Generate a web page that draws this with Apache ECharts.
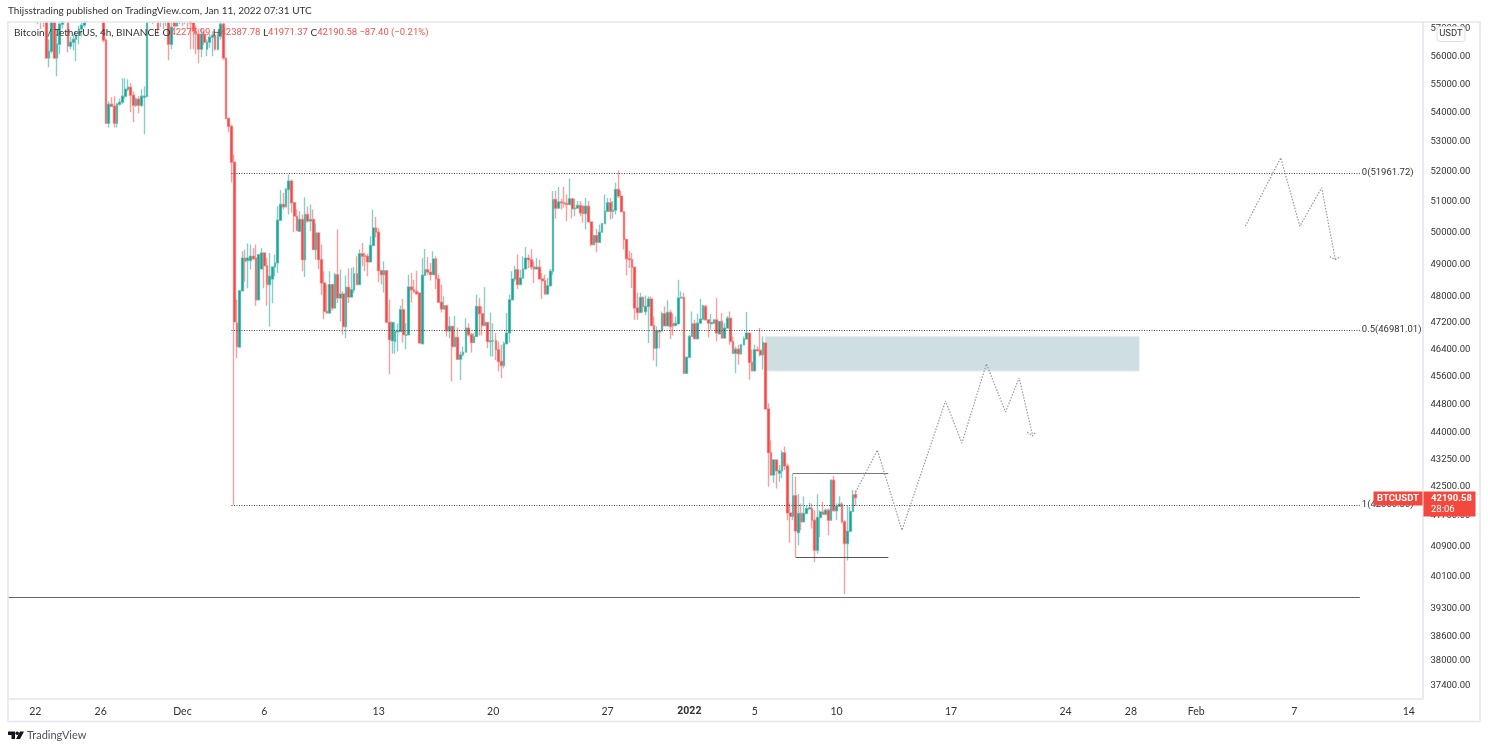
<!DOCTYPE html>
<html>
<head>
<meta charset="utf-8">
<style>
html, body { margin: 0; padding: 0; background: #fff; }
#chart { width: 1488px; height: 750px; }
</style>
<script src="https://cdn.jsdelivr.net/npm/echarts@6/dist/echarts.min.js"></script>
</head>
<body>
<div id="chart"></div>
<script type="text/javascript">

// BTCUSDT 4h bars, first bar 2021-11-20 08:00. Prices above the chart top are estimates.
var opens = [
    58500,58800,59000,58700,59100,59300,59000,58900,58700,58400,
    58300,57900,58100,57700,57900,55930,56180,57300,55930,56430,
    57160,57500,57700,56360,56505,56613,56760,56980,57125,57400,
    57800,58100,58400,58200,58500,58300,56575,53640,54300,54230,
    53640,54300,54370,54580,54825,54895,54615,54265,54474,54265,
    54545,54580,57600,57700,57500,57350,57400,57700,57500,57800,
    56430,57500,57090,57500,57800,57500,57700,57400,57200,56900,
    56795,56252,56795,56252,56505,56685,56750,56252,56720,57160,
    55930,53810,53535,52320,47190,46470,48180,49200,49120,49120,
    49255,49200,47900,48860,49360,48960,48370,48545,48920,49050,
    50410,50920,50845,51410,51690,50975,50540,50055,50430,49150,
    50595,50380,50430,49470,50000,49150,48420,47545,47495,48370,
    47650,48680,47955,48080,47090,48285,47985,48210,48710,48370,
    49340,49275,49255,49080,49600,50160,50025,48805,48680,48805,
    47220,46660,46640,46930,46940,47600,46820,46840,48295,48210,
    48160,48110,46570,48660,48835,48760,48680,49170,48545,47825,
    47620,47720,46960,47090,46490,46760,46110,46240,46320,47040,
    46840,46610,46790,47700,47475,47120,47210,46640,46650,46660,
    46390,46045,45925,46570,46890,47900,48545,48835,48370,48575,
    48860,49200,49150,48920,48860,48910,48545,48490,48080,48335,
    48785,51085,50800,51000,50975,50950,50920,51105,50780,50800,
    50885,50865,50625,50865,50355,49630,49915,49700,50025,50300,
    50700,50975,50700,50735,51415,51195,50680,49790,49180,49150,
    48910,47650,47515,47975,47545,47700,47925,47120,46440,46960,
    46960,47475,47110,47515,47170,47120,47170,47955,47975,45700,
    46170,46790,47170,46720,47190,47310,47700,47290,47170,47190,
    47290,46870,47240,46740,47040,47340,46640,46290,46410,46270,
    46540,46710,46890,46015,45770,46390,46370,46240,46590,44665,
    43430,42810,43225,42860,42930,43430,43060,41785,41695,42245,
    41260,41770,41545,41770,41890,41900,41590,40795,41660,41810,
    41750,41855,41590,42670,41840,41965,42020,41545,40970,41295,
    41825,42277.99
];
var closes = [
    58800,59000,58700,59100,59300,59000,58900,58700,58400,58300,
    57900,58100,57700,57900,55930,56180,57300,55930,56430,57160,
    57500,57700,56360,56505,56613,56760,56980,57125,57400,57800,
    58100,58400,58200,58500,58300,56575,53640,54300,54230,53640,
    54300,54370,54580,54825,54895,54615,54265,54474,54265,54580,
    54580,57600,57700,57500,57350,56980,57700,57500,57800,56430,
    57050,57090,57500,57800,57500,57700,57400,57200,56900,56795,
    56252,56795,56505,56505,56685,56750,56252,56720,57160,55930,
    53810,53535,52320,47230,46490,48180,49200,49100,49200,49255,
    49180,47900,49310,49360,48960,48370,48630,48920,49050,50410,
    50920,50845,51410,51690,50975,50540,50075,50430,49150,50595,
    50380,50430,49470,50000,49150,48420,47545,47495,48370,47650,
    48680,47955,48080,47090,48285,47985,48210,48710,48370,49340,
    49255,49255,49080,49600,50160,50025,48805,48680,48805,47220,
    46690,47210,46940,46960,47600,46840,46840,48295,48210,48160,
    48090,46590,48660,48835,48760,48680,49170,48545,47825,47620,
    47720,46960,47090,46490,46760,46110,46240,46320,47040,46840,
    46610,46790,47700,47475,47120,47210,46640,46660,46660,46390,
    46045,45925,46570,46890,47900,48545,48835,48370,48575,48860,
    49200,49150,48920,48860,48910,48545,48490,48080,48335,48785,
    51085,50800,51000,50975,50950,50920,51105,50780,50800,50885,
    50645,50625,50865,50355,49630,49915,49700,50025,50300,50700,
    50975,50700,50735,51415,51195,50680,49790,49180,49150,48910,
    47650,47515,47975,47700,47700,47925,47120,46440,46960,46930,
    47475,47110,47515,47090,47110,47190,47955,47975,45700,46170,
    46790,47170,46720,47190,47310,47720,47290,47190,47210,47290,
    46890,47240,46740,47040,47340,46640,46290,46410,46270,46540,
    46710,46890,46015,45770,46390,46360,46240,46610,44665,43430,
    42810,43225,42930,42930,43430,43060,41785,41695,42245,41305,
    41770,41545,41770,41900,41920,41590,40795,41660,41810,41750,
    41855,41590,42670,41840,41965,42020,41545,40970,41295,41825,
    42270,42190.58
];
var lows = [
    58300,58500,58400,58500,58900,58800,58600,58300,58100,57700,
    57200,57160,56980,57050,55900,55605,56100,55890,55285,56070,
    57000,57200,56140,56250,56210,55820,56430,56720,57050,57200,
    57600,57900,58000,58000,58000,56500,53640,53500,54200,53500,
    53500,54250,54300,54500,54750,54020,53675,54200,53985,54200,
    53262,54545,57200,57160,57200,56795,57050,56980,57090,55856,
    56250,57000,57090,57160,57090,57160,56980,56252,56252,56070,
    55750,55964,56400,56000,56300,56000,56200,56200,56600,55850,
    53780,53330,51645,42000.3,46140,46470,48180,48470,48260,48840,
    49150,47720,47900,48840,48260,47720,47090,47800,48630,48730,
    50410,50760,50845,50595,50650,50020,50055,50055,48785,48610,
    50325,50055,49445,49150,48860,48060,47310,47475,47495,47575,
    47650,47800,47240,46840,46740,47800,47985,48110,48370,48370,
    48940,48785,48630,49080,49600,49860,48440,48370,48130,47190,
    45670,46270,46270,46340,46940,46610,46410,46840,47820,48110,
    48060,46570,46570,48660,48680,48500,48680,48235,47800,47515,
    47600,46790,46740,45455,46490,46090,45500,46190,46320,46790,
    46310,46610,46790,46820,46820,47120,46440,46190,46190,46090,
    45750,45550,45845,46570,46610,47900,48470,48235,48370,48575,
    48860,48890,48835,48420,48860,48525,47925,48060,48060,48335,
    48680,50465,50800,50755,50810,50375,50920,50465,50540,50800,
    50540,50325,50110,50325,49575,49600,49385,49680,50025,50300,
    50700,50430,50465,50595,51135,50680,49470,48650,48890,48265,
    47290,47290,47515,47515,47440,46590,47120,46070,45900,46440,
    46960,47110,47110,46710,46820,47120,47170,47955,45680,45680,
    46170,46790,46720,46720,47190,47310,47270,46760,46990,47190,
    46640,46840,46740,46740,47040,46540,46270,45700,45945,46270,
    46540,46710,45505,45750,45770,46340,46190,45800,44640,42490,
    42810,42600,42445,42625,42720,42950,41590,40995,41590,40620,
    40925,41325,41545,41770,41890,41370,40490,40705,41145,41750,
    41750,41190,41590,41840,41590,41965,41500,39660,40530,41295,
    41825,41971.37
];
var highs = [
    59000,59300,59200,59400,59600,59500,59200,59100,58900,58600,
    58500,58300,58200,58000,58000,56600,57500,57500,56800,57400,
    57800,58000,57900,56700,56800,56900,57100,57300,57600,58000,
    58300,58600,58700,58800,58800,58500,56650,54400,54545,54580,
    54350,54500,55210,55210,55180,55035,54755,54545,54580,54825,
    54930,57800,57900,57900,57700,57500,57900,57900,58000,58000,
    57300,57700,57700,58000,58000,57900,57900,57700,57400,57100,
    57000,57000,56900,56600,56800,56900,56900,56900,57350,57300,
    55950,53850,53600,52580,47900,48180,49415,49470,49660,49630,
    49520,49630,49310,49520,49360,49200,49360,48940,49310,50865,
    51390,51300,51470,51910,51745,50975,50760,50700,50595,51160,
    50865,50920,50755,50300,50000,49630,48785,48370,48785,48400,
    48730,50110,48840,48160,48650,48870,48890,48920,49255,49470,
    49680,49360,49340,49890,50755,50515,50160,48836,49100,48805,
    47900,47210,47210,47170,47730,47925,47190,48680,48730,48525,
    48805,48110,49200,49490,49235,49045,49415,49255,48680,48370,
    48010,47750,47390,47090,47410,47060,46340,46490,47340,47190,
    46890,46890,48060,47955,47700,48285,47210,47515,47190,46890,
    46640,46540,46640,47495,48060,48785,48960,49310,48835,49255,
    49550,49310,49490,49100,49200,49150,48730,48680,48575,48860,
    51360,51360,51500,51105,51500,51250,51775,51105,51105,51030,
    51030,50865,51135,51030,50355,49945,50130,50270,50325,51250,
    51135,51135,51030,51635,52045,51360,50680,49790,49435,49360,
    48910,48110,48110,48005,48030,48005,48005,47390,47090,46990,
    47545,47700,47885,47600,47475,47390,48525,48160,48110,46190,
    46840,47545,47290,47475,47925,47750,47750,47290,47475,47310,
    47955,47240,47495,47190,47410,47545,46790,46490,46540,46540,
    46790,47525,46890,46390,46540,46490,47040,46790,46610,44830,
    43780,43245,43245,43085,43500,43600,43130,42035,42860,42765,
    42290,42035,42235,41990,42055,42035,41855,42290,41855,42080,
    41900,41900,42670,42790,42035,42235,42080,41590,41990,41950,
    42400,42387.78
];

var priceTicks = [57000,56000,55000,54000,53000,52000,51000,50000,49000,48000,47200,46400,45600,44800,44000,43250,42500,41700,40900,40100,39300,38600,38000,37400];
var dateTicks = {
    '2021-11-22 00:00': '22', '2021-11-26 00:00': '26', '2021-12-01 00:00': 'Dec', '2021-12-06 00:00': '6',
    '2021-12-13 00:00': '13', '2021-12-20 00:00': '20', '2021-12-27 00:00': '27', '2022-01-01 00:00': '2022',
    '2022-01-05 00:00': '5', '2022-01-10 00:00': '10', '2022-01-17 00:00': '17', '2022-01-24 00:00': '24',
    '2022-01-28 00:00': '28', '2022-02-01 00:00': 'Feb', '2022-02-07 00:00': '7', '2022-02-14 00:00': '14'
};

// drawings on the chart, as [bar number, price]
var fibRatios = ['0', '0.5', '1'];
var fibPrices = [51961.72, 46981.01, 42000.30];
var fibFrom = 82, fibTo = 496;
var supportPrice = 39580, supportFrom = 0, supportTo = 496;
var rangeTop = [288, 323, 42865];
var rangeBottom = [289, 323, 40610];
var zone = [278, 415, 46777, 45768];
var projectionA = [[311,42345],[319,43502],[328,41323],[344,44893],[350,43698],[359,45974],[366,44578],[371,45562],[376,43896]];
var arrowA = [[374,44000],[376,43896],[377,44000]];
var projectionB = [[454,50215],[467,52470],[474,50215],[482,51470],[487,49151]];
var arrowB = [[485,49245],[487,49151],[489,49245]];

var barCount = 520;
var firstBar = Date.UTC(2021, 10, 20, 8);

function pad(n){
    return n < 10 ? '0' + n : '' + n;
}
function barName(i){
    var d = new Date(firstBar + i * 4 * 3600 * 1000);
    return d.getUTCFullYear() + '-' + pad(d.getUTCMonth() + 1) + '-' + pad(d.getUTCDate()) + ' ' + pad(d.getUTCHours()) + ':00';
}
function named(points){
    return points.map(function(p){ return [barName(p[0]), p[1]]; });
}

var categories = [];
for (var i = 0; i < barCount; i++){
    categories.push(barName(i));
}
var candles = opens.map(function(o, i){
    return [o, closes[i], lows[i], highs[i]];
});

var FONT = 'Lato, sans-serif';
var NUMS = 'Roboto, sans-serif';
var UP = '#1ba192', DOWN = '#f44546';

function drawnLine(points, color){
    return {
        type: 'line',
        data: named(points),
        showSymbol: false,
        silent: true,
        z: 5,
        lineStyle: { color: color, width: 1.2, type: [1.5, 1.5] }
    };
}
function segment(a, b, price, color, type){
    return [
        { coord: [barName(a), price], lineStyle: { color: color, width: 1, type: type }, label: { show: false } },
        { coord: [barName(b), price] }
    ];
}

var fibLines = fibPrices.map(function(p, i){
    return [
        {
            coord: [barName(fibFrom), p],
            lineStyle: { color: '#444', width: 1, type: [1, 1.5] },
            label: {
                show: true, position: 'end', distance: 2,
                formatter: fibRatios[i] + '(' + p.toFixed(2) + ')',
                color: '#333', fontFamily: NUMS, fontSize: 9.5
            }
        },
        { coord: [barName(fibTo), p] }
    ];
});

var myChart = echarts.init(document.getElementById('chart'));

var option = {
    animation: false,
    backgroundColor: '#fff',
    grid: { left: 8, top: 22, width: 1414.5, height: 677, containLabel: false },
    title: [{
        text: 'Thijsstrading published on TradingView.com, Jan 11, 2022 07:31 UTC',
        left: 8, top: 6, padding: 0, z: 20,
        textStyle: { color: '#333', fontFamily: FONT, fontSize: 10, fontWeight: 'normal' }
    }, {
        text: '{n|Bitcoin / TetherUS, 4h, BINANCE O}{r|42277.99}{n| H}{r|42387.78}{n| L}{r|41971.37}{n| C}{r|42190.58}{r| \u221287.40 (\u22120.21%)}',
        left: 14, top: 28, padding: 0, z: 20,
        textStyle: {
            fontWeight: 'normal',
            rich: {
                n: { color: '#333', fontFamily: FONT, fontSize: 10, fontWeight: 'normal' },
                r: { color: '#ef5350', fontFamily: NUMS, fontSize: 9.5, fontWeight: 'normal' }
            }
        }
    }],
    xAxis: {
        type: 'category',
        data: categories,
        boundaryGap: false,
        axisLine: { lineStyle: { color: '#e3e5ec', width: 1.5 } },
        axisTick: { show: false },
        splitLine: { show: false },
        axisLabel: {
            interval: function(index, value){ return dateTicks[value] !== undefined; },
            formatter: function(value){
                var t = dateTicks[value];
                return t === '2022' ? '{b|2022}' : t;
            },
            rich: { b: { fontWeight: 'bold', color: '#333', fontFamily: NUMS, fontSize: 10.5 } },
            color: '#333', fontFamily: FONT, fontSize: 10.5, margin: 7
        }
    },
    yAxis: {
        type: 'log',
        position: 'right',
        min: 37085,
        max: 57240,
        axisLine: { show: true, lineStyle: { color: '#e3e5ec', width: 1.5 } },
        axisTick: { show: false },
        splitLine: { show: false },
        minorTick: { show: false },
        axisLabel: {
            customValues: priceTicks,
            formatter: function(value){ return Number(value).toFixed(2); },
            color: '#333', fontFamily: NUMS, fontSize: 9.5, margin: 8, padding: [3, 0, 0, 0]
        }
    },
    series: [
        {
            type: 'line',
            data: [],
            silent: true,
            z: 1,
            markArea: {
                silent: true,
                itemStyle: { color: '#cfdee1', borderColor: '#d9e5e7', borderWidth: 1 },
                data: [[
                    { coord: [barName(zone[0]), zone[2]] },
                    { coord: [barName(zone[1]), zone[3]] }
                ]]
            }
        },
        {
            type: 'candlestick',
            data: candles,
            barWidth: 2.2,
            silent: true,
            z: 3,
            clip: true,
            itemStyle: {
                color: UP,
                color0: DOWN,
                borderColor: 'rgba(38,166,154,0.55)',
                borderColor0: 'rgba(239,83,80,0.55)',
                borderWidth: 1.4
            },
            markLine: {
                silent: true,
                symbol: 'none',
                precision: 2,
                data: fibLines.concat([
                    segment(supportFrom, supportTo, supportPrice, '#666', 'solid'),
                    segment(rangeTop[0], rangeTop[1], rangeTop[2], '#777', 'solid'),
                    segment(rangeBottom[0], rangeBottom[1], rangeBottom[2], '#555', 'solid')
                ])
            }
        },
        drawnLine(projectionA, '#999'),
        drawnLine(arrowA, '#999'),
        drawnLine(projectionB, '#999'),
        drawnLine(arrowB, '#999')
    ]
};
myChart.setOption(option);

// frame, price tags and footer sit outside the plot
function set_overlays(){
    var lastClose = closes[closes.length - 1];
    var tagY = Math.round(myChart.convertToPixel({ yAxisIndex: 0 }, lastClose));
    var red = '#f4483f';
    var ink = '#131722';
    myChart.setOption({
        graphic: [
            // bars running past the top of the plot are hidden by this strip
            { type: 'rect', z: 10, silent: true, shape: { x: 0, y: 0, width: 1488, height: 21.5 }, style: { fill: '#fff' } },
            { type: 'rect', z: 10, silent: true, shape: { x: 0, y: 0, width: 8, height: 700 }, style: { fill: '#fff' } },
            { type: 'rect', z: 11, silent: true, shape: { x: 8, y: 22, width: 1472, height: 699.5 },
              style: { fill: 'none', stroke: '#e6e8ef', lineWidth: 1.5 } },
            { type: 'rect', z: 100, shape: { x: 1437, y: 26.5, width: 28, height: 15, r: 3 },
              style: { fill: '#fff', stroke: '#dcdfe6', lineWidth: 1 } },
            { type: 'text', z: 101, style: { x: 1451, y: 34, text: 'USDT', fill: '#333', font: '9.5px ' + NUMS, textAlign: 'center', textVerticalAlign: 'middle' } },
            { type: 'rect', z: 100, shape: { x: 1373.5, y: tagY - 6.5, width: 49, height: 14 }, style: { fill: red } },
            { type: 'text', z: 101, style: { x: 1398, y: tagY + 0.5, text: 'BTCUSDT', fill: '#fff', font: 'bold 9.5px ' + NUMS, textAlign: 'center', textVerticalAlign: 'middle' } },
            { type: 'rect', z: 100, shape: { x: 1423.5, y: tagY - 6.5, width: 52, height: 25 }, style: { fill: red } },
            { type: 'text', z: 101, style: { x: 1431, y: tagY + 0.5, text: lastClose.toFixed(2), fill: '#fff', font: 'bold 9.5px ' + NUMS, textVerticalAlign: 'middle' } },
            { type: 'text', z: 101, style: { x: 1431, y: tagY + 12, text: '28:06', fill: '#fff', font: '9.5px ' + NUMS, textVerticalAlign: 'middle' } },
            { type: 'polygon', z: 5, shape: { points: [[8,731.5],[15,731.5],[15,739],[11.5,739],[11.5,735],[8,735]] }, style: { fill: ink } },
            { type: 'circle', z: 5, shape: { cx: 17.2, cy: 733.3, r: 1.8 }, style: { fill: ink } },
            { type: 'polygon', z: 5, shape: { points: [[16,739],[20,731.5],[24,731.5],[20,739]] }, style: { fill: ink } },
            { type: 'text', z: 5, style: { x: 27, y: 735.5, text: 'TradingView', fill: '#50535e', font: '11px ' + FONT, textVerticalAlign: 'middle' } }
        ]
    });
}
set_overlays();

</script>
</body>
</html>
